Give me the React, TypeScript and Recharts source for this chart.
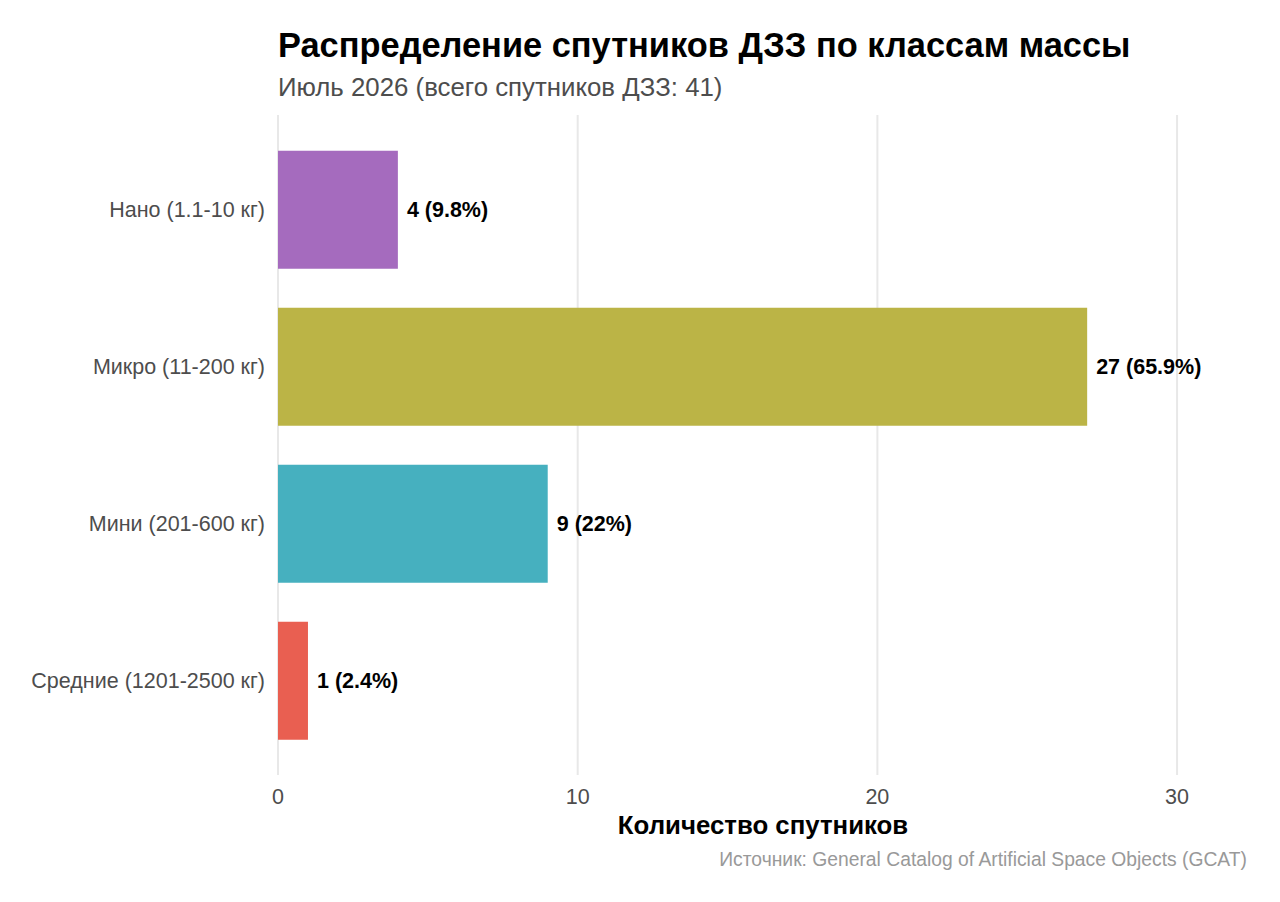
import React from 'react';
import { BarChart, Bar, XAxis, YAxis, CartesianGrid, Cell, LabelList } from 'recharts';

const categories = ['Нано (1.1-10 кг)', 'Микро (11-200 кг)', 'Мини (201-600 кг)', 'Средние (1201-2500 кг)'];
const counts = [4, 27, 9, 1];
const shares = ['9.8%', '65.9%', '22%', '2.4%'];
const colors = ['#a56bbe', '#bbb446', '#46b0bf', '#e95f51'];
const xTicks = [0, 10, 20, 30];

const data = categories.map((name, i) => ({
  name,
  value: counts[i],
  label: `${counts[i]} (${shares[i]})`,
  color: colors[i],
}));

const FONT = '"Liberation Sans", Arial, sans-serif';

const App: React.FC = () => {
  return (
    <div style={{ position: 'absolute', left: 0, top: 0, width: 1280, height: 902, background: '#fff', fontFamily: FONT }}>
      <BarChart
        width={1280}
        height={902}
        data={data}
        layout="vertical"
        margin={{ top: 115, right: 31, bottom: 87, left: 0 }}
        barCategoryGap="12.5%"
      >
        <CartesianGrid horizontal={false} verticalValues={xTicks} stroke="#e8e8e8" strokeWidth={2} />
        <XAxis
          type="number"
          domain={[0, 32.4]}
          ticks={xTicks}
          axisLine={false}
          tickLine={false}
          tickSize={0}
          tickMargin={14}
          height={40}
          tick={{ fill: '#4d4d4d', fontSize: 21.5, fontFamily: FONT }}
          allowDataOverflow
        />
        <YAxis
          type="category"
          dataKey="name"
          width={278}
          axisLine={false}
          tickLine={false}
          tickSize={0}
          tickMargin={13}
          padding={{ top: 16, bottom: 16 }}
          tick={{ fill: '#4d4d4d', fontSize: 21.5, fontFamily: FONT }}
        />
        <Bar dataKey="value" isAnimationActive={false}>
          {data.map((d) => (
            <Cell key={d.name} fill={d.color} />
          ))}
          <LabelList
            dataKey="label"
            position="right"
            offset={9}
            style={{ fill: '#000', fontSize: 21.5, fontWeight: 700, fontFamily: FONT }}
          />
        </Bar>
      </BarChart>
      <svg width={1280} height={902} style={{ position: 'absolute', left: 0, top: 0, pointerEvents: 'none' }}>
        <text x={278} y={57} fontSize={34.4} fontWeight={700} fill="#000" fontFamily={FONT}>
          Распределение спутников ДЗЗ по классам массы
        </text>
        <text x={278} y={96} fontSize={25.8} fill="#4d4d4d" fontFamily={FONT}>
          Июль 2026 (всего спутников ДЗЗ: 41)
        </text>
        <text x={763} y={834} fontSize={25.8} fontWeight={700} fill="#000" textAnchor="middle" fontFamily={FONT}>
          Количество спутников
        </text>
        <text x={1247} y={866} fontSize={19.3} fill="#999" textAnchor="end" fontFamily={FONT}>
          Источник: General Catalog of Artificial Space Objects (GCAT)
        </text>
      </svg>
    </div>
  );
};

export default App;
